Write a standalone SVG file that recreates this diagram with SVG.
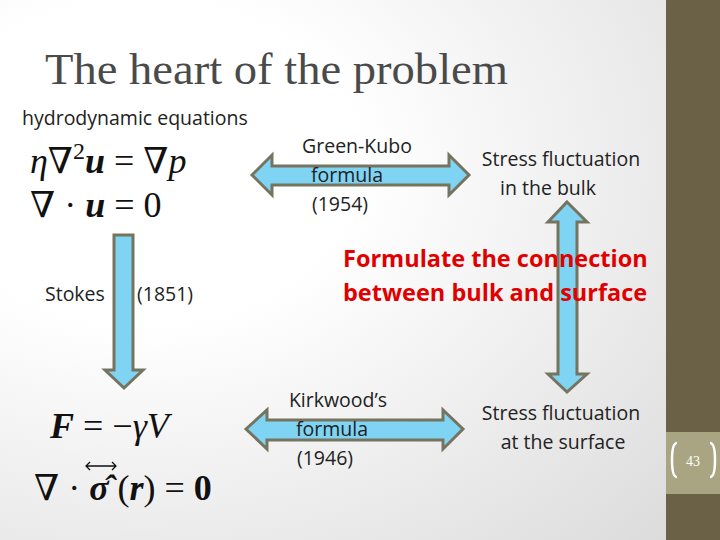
<svg xmlns="http://www.w3.org/2000/svg" width="720" height="540" viewBox="0 0 720 540">
<defs>
<radialGradient id="bg" cx="0.2" cy="0.3" r="1">
<stop offset="0.3" stop-color="#ffffff"/><stop offset="1" stop-color="#dcdcdc"/>
</radialGradient>
<style>
.arr{fill:#7fd3f3;stroke:#76745f;stroke-width:3;stroke-linejoin:miter}
.t{font-family:"Open Sans","Liberation Sans",sans-serif;font-size:19.5px;fill:#222}
.m{font-family:"Liberation Serif","DejaVu Serif",serif;font-size:36px;fill:#111}
.red{font-family:"Open Sans","Liberation Sans",sans-serif;font-size:23.5px;font-weight:bold;fill:#e00000}
</style>
</defs>
<rect width="720" height="540" fill="url(#bg)"/>
<rect x="666" y="0" width="54" height="540" fill="#6b6147"/>
<rect x="666" y="432" width="54" height="62" fill="#a9a582"/>
<path d="M677,443 q-5,0 -5,17 q0,17 5,17 M710,443 q5,0 5,17 q0,17 -5,17" fill="none" stroke="#fff" stroke-width="2.5"/>
<text x="693" y="466" text-anchor="middle" font-family="Liberation Serif,serif" font-size="14" fill="#fff">43</text>
<text x="45" y="84" font-family="Liberation Serif,serif" font-size="45" fill="#4a4a4a" textLength="463" lengthAdjust="spacingAndGlyphs">The heart of the problem</text>
<g id="connectors">
<polygon class="arr" points="114,235 133,235 133,370 143,370 124,388 105,370 114,370"/>
<polygon class="arr" points="252,175 272,155 272,166 449,166 449,155 469,175 449,195 449,185 272,185 272,195"/>
<polygon class="arr" points="246,429 267,410 267,420 443,420 443,410 463,429 443,449 443,440 267,440 267,449"/>
<polygon class="arr" points="567,202 587,222 577,222 577,374 587,374 567,392 548,374 558,374 558,222 548,222"/>
</g>
<g id="hydro">
<text class="t" x="22" y="125">hydrodynamic equations</text>
<text class="m" x="30" y="173"><tspan font-style="italic">η</tspan>∇<tspan font-size="24" dy="-14">2</tspan><tspan dy="14" font-weight="bold" font-style="italic">u</tspan> = ∇<tspan font-style="italic">p</tspan></text>
<text class="m" x="30" y="217">∇ · <tspan font-weight="bold" font-style="italic">u</tspan> = 0</text>
</g>
<g id="stokes">
<text class="t" x="45" y="301">Stokes</text>
<text class="t" x="137" y="301">(1851)</text>
</g>
<g id="force">
<text class="m" x="50" y="438"><tspan font-weight="bold" font-style="italic">F</tspan>  = −<tspan font-style="italic">γV</tspan></text>
<text class="m" x="34" y="500">∇ ·  <tspan font-weight="bold" font-style="italic">σ̂</tspan> (<tspan font-weight="bold" font-style="italic">r</tspan>) = <tspan font-weight="bold">0</tspan></text>
<path d="M86,466 h30 M90,462 l-4,4 l4,4 M112,462 l4,4 l-4,4" fill="none" stroke="#111" stroke-width="1.3"/>
</g>
<g id="greenkubo">
<text class="t" x="357" y="153" text-anchor="middle">Green-Kubo</text>
<text class="t" x="347" y="182" text-anchor="middle">formula</text>
<text class="t" x="340" y="211" text-anchor="middle">(1954)</text>
</g>
<g id="bulk">
<text class="t" x="561" y="166" text-anchor="middle">Stress fluctuation</text>
<text class="t" x="548" y="195" text-anchor="middle">in the bulk</text>
</g>
<g id="goal">
<text class="red" x="343" y="267">Formulate the connection</text>
<text class="red" x="343" y="301">between  bulk and surface</text>
</g>
<g id="kirkwood">
<text class="t" x="338" y="407" text-anchor="middle">Kirkwood’s</text>
<text class="t" x="332" y="436" text-anchor="middle">formula</text>
<text class="t" x="325" y="465" text-anchor="middle">(1946)</text>
</g>
<g id="surface">
<text class="t" x="561" y="420" text-anchor="middle">Stress fluctuation</text>
<text class="t" x="563" y="449" text-anchor="middle">at the surface</text>
</g>
</svg>
